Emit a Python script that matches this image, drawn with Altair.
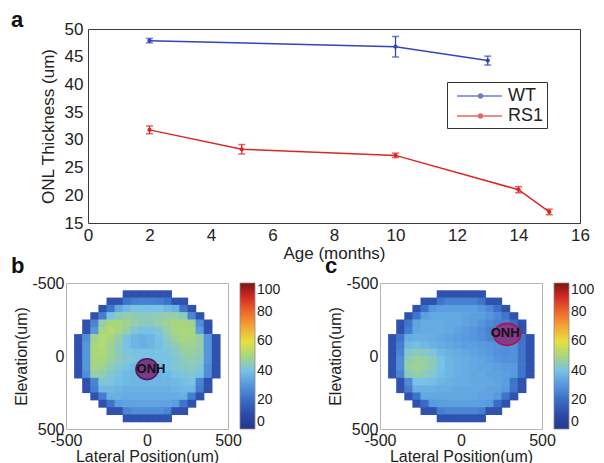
import altair as alt
import pandas as pd

FONT = "Liberation Sans"
TXT = "#222222"

# ---------------- panel a : ONL thickness vs age ----------------
wt_age = [2, 10, 13]
wt_mean = [47.9, 46.8, 44.3]
wt_err = [0.4, 1.85, 0.8]
rs1_age = [2, 5, 10, 14, 15]
rs1_mean = [31.8, 28.3, 27.2, 21.0, 17.0]
rs1_err = [0.7, 0.85, 0.4, 0.55, 0.5]
series_names = ["WT", "RS1"]
series_colors = ["#3346b8", "#e02424"]
age_ticks = [0, 2, 4, 6, 8, 10, 12, 14, 16]
thick_ticks = [15, 20, 25, 30, 35, 40, 45, 50]

# ---------------- panels b, c : thickness maps (um) ----------------
_ = None
cell_centers = [-425, -375, -325, -275, -225, -175, -125, -75, -25,
                25, 75, 125, 175, 225, 275, 325, 375, 425]
cell_half = 25
cell_overlap = 4

map_b = [
    [_, _, _, _, _, _, 12, 12, 12, 12, 12, 12, _, _, _, _, _, _],
    [_, _, _, _, 12, 12, 22, 24, 25, 25, 24, 22, 12, 12, _, _, _, _],
    [_, _, _, 12, 22, 34, 38, 40, 40, 40, 40, 38, 36, 22, 12, _, _, _],
    [_, _, 12, 24, 40, 44, 46, 45, 44, 44, 45, 46, 46, 44, 26, 12, _, _],
    [_, 12, 26, 46, 50, 50, 48, 46, 44, 44, 46, 48, 50, 50, 48, 28, 12, _],
    [_, 12, 30, 50, 52, 50, 46, 42, 40, 40, 42, 46, 50, 51, 50, 32, 12, _],
    [12, 28, 48, 52, 50, 46, 40, 37, 36, 37, 40, 44, 48, 50, 50, 46, 30, 12],
    [12, 30, 50, 52, 48, 44, 40, 37, 36, 37, 39, 42, 45, 48, 48, 46, 30, 12],
    [12, 30, 50, 51, 48, 44, 41, 40, 40, 40, 40, 41, 43, 46, 47, 45, 30, 12],
    [12, 30, 50, 50, 47, 44, 42, 41, 40, 40, 40, 40, 42, 44, 45, 44, 30, 12],
    [12, 30, 49, 48, 45, 42, 40, 38, 36, 36, 38, 40, 42, 43, 44, 42, 28, 12],
    [12, 28, 46, 45, 42, 40, 38, 37, 36, 36, 37, 38, 40, 41, 42, 40, 28, 12],
    [_, 12, 26, 42, 41, 39, 38, 37, 37, 37, 37, 37, 38, 39, 40, 26, 12, _],
    [_, 12, 24, 38, 38, 37, 36, 36, 36, 36, 36, 36, 37, 38, 38, 24, 12, _],
    [_, _, 12, 24, 36, 36, 35, 35, 35, 35, 35, 35, 35, 36, 24, 12, _, _],
    [_, _, _, 12, 22, 32, 33, 33, 33, 33, 33, 33, 32, 22, 12, _, _, _],
    [_, _, _, _, 12, 12, 26, 28, 28, 28, 28, 26, 12, 12, _, _, _, _],
    [_, _, _, _, _, _, 12, 12, 12, 12, 12, 12, _, _, _, _, _, _],
]

map_c = [
    [_, _, _, _, _, _, 12, 12, 12, 12, 12, 12, _, _, _, _, _, _],
    [_, _, _, _, 12, 12, 22, 25, 25, 25, 25, 22, 12, 12, _, _, _, _],
    [_, _, _, 12, 21, 30, 32, 32, 32, 32, 32, 30, 27, 21, 12, _, _, _],
    [_, _, 12, 22, 32, 34, 34, 34, 34, 33, 32, 32, 30, 27, 22, 12, _, _],
    [_, 12, 22, 33, 35, 35, 35, 34, 34, 33, 32, 30, 27, 25, 25, 20, 12, _],
    [_, 12, 24, 34, 35, 35, 35, 34, 33, 32, 30, 28, 25, 25, 25, 22, 12, _],
    [12, 22, 35, 36, 36, 35, 34, 33, 32, 31, 30, 28, 26, 27, 27, 27, 22, 12],
    [12, 24, 38, 39, 38, 36, 35, 34, 33, 32, 32, 31, 30, 29, 29, 29, 22, 12],
    [12, 26, 42, 44, 43, 41, 38, 36, 35, 34, 33, 32, 31, 29, 28, 29, 22, 12],
    [12, 28, 45, 47, 46, 44, 40, 37, 36, 35, 34, 33, 32, 30, 29, 29, 22, 12],
    [12, 28, 46, 48, 47, 44, 40, 37, 36, 35, 34, 33, 33, 32, 31, 31, 22, 12],
    [12, 26, 44, 46, 44, 42, 39, 37, 36, 35, 34, 34, 33, 33, 32, 31, 22, 12],
    [_, 12, 27, 40, 40, 39, 37, 36, 35, 35, 34, 34, 34, 33, 32, 22, 12, _],
    [_, 12, 24, 36, 36, 36, 35, 35, 34, 34, 34, 34, 33, 33, 31, 22, 12, _],
    [_, _, 12, 22, 34, 34, 34, 34, 34, 34, 34, 33, 33, 31, 22, 12, _, _],
    [_, _, _, 12, 20, 31, 32, 32, 32, 32, 32, 32, 31, 20, 12, _, _, _],
    [_, _, _, _, 12, 12, 24, 26, 26, 26, 26, 24, 12, 12, _, _, _, _],
    [_, _, _, _, _, _, 12, 12, 12, 12, 12, 12, _, _, _, _, _, _],
]

onh_b_x, onh_b_y = [0], [90]
onh_b_text_x, onh_b_text_y = [25], [90]
onh_c_x, onh_c_y = [285], [-148]
onh_c_text_x, onh_c_text_y = [272], [-155]

pos_ticks = [-500, 0, 500]
cbar_ticks = [0, 20, 40, 60, 80, 100]
cmap_stops = [0, 10, 20, 30, 40, 50, 60, 70, 80, 90, 100]
cmap_colors = ["#22388c", "#2c4ba8", "#3a6cc6", "#5596de", "#78c2e6",
               "#a8d67e", "#e6e040", "#f4a637", "#ee6a2a", "#d42b24", "#7e1411"]

# ---------------- build panel a ----------------
recs = []
for name, ages, means, errs in (("WT", wt_age, wt_mean, wt_err),
                                ("RS1", rs1_age, rs1_mean, rs1_err)):
    for a, m, e in zip(ages, means, errs):
        recs.append({"series": name, "age": a, "mean": m, "lo": m - e, "hi": m + e})
df_a = pd.DataFrame(recs)

x_a = alt.X("age:Q", scale=alt.Scale(domain=[0, 16], nice=False, zero=False),
            axis=alt.Axis(values=age_ticks, title="Age (months)", labelFlush=False,
                          labelOverlap=False, ticks=False, domain=False, grid=False,
                          labelFontSize=17, titleFontSize=17, labelPadding=4, titlePadding=2))
y_scale_a = alt.Scale(domain=[15, 50], nice=False, zero=False)
y_axis_a = alt.Axis(values=thick_ticks, title="ONL Thickness (um)", labelFlush=False,
                    labelOverlap=False, ticks=False, domain=False, grid=False,
                    labelFontSize=17, titleFontSize=17, labelPadding=5, titlePadding=7)
legend_a = alt.Legend(
    orient="none", legendX=381, legendY=53, title=None,
    symbolType="M-0.4,0L4.1,0M1.75,0A0.2,0.2,0,1,1,2.15,0A0.2,0.2,0,1,1,1.75,0Z",
    symbolSize=400, symbolStrokeWidth=1.3, labelFontSize=18, labelOffset=36,
    labelColor=TXT, padding=3, rowPadding=0, strokeColor="#333333", fillColor="white",
    cornerRadius=0)
color_a = alt.Color("series:N", scale=alt.Scale(domain=series_names, range=series_colors),
                    sort=series_names, legend=legend_a)

base = alt.Chart(df_a).encode(x=x_a, color=color_a)
line = base.mark_line(strokeWidth=1.5).encode(y=alt.Y("mean:Q", scale=y_scale_a, axis=y_axis_a))
err = base.mark_rule(strokeWidth=1.3).encode(y=alt.Y("lo:Q", scale=y_scale_a, axis=y_axis_a), y2="hi:Q")
cap_lo = base.mark_tick(orient="horizontal", size=7, thickness=1.5).encode(
    y=alt.Y("lo:Q", scale=y_scale_a, axis=y_axis_a))
cap_hi = base.mark_tick(orient="horizontal", size=7, thickness=1.5).encode(
    y=alt.Y("hi:Q", scale=y_scale_a, axis=y_axis_a))
pts = base.mark_circle(size=18, opacity=1).encode(y=alt.Y("mean:Q", scale=y_scale_a, axis=y_axis_a))

panel_a = alt.layer(line, err, cap_lo, cap_hi, pts).properties(
    width=492, height=194,
    title=alt.Title(" a", anchor="start", frame="group", dx=-77, offset=-12, fontSize=22,
                    fontWeight="bold", color="#111111", font=FONT),
    view=alt.ViewBackground(stroke="#3a3a3a", strokeWidth=1))

# empty spacer that pushes panel a to the right of the lower panels
spacer = alt.Chart(pd.DataFrame({"v": [0]})).mark_point(opacity=0).encode(
    x=alt.X("v:Q", axis=None), y=alt.Y("v:Q", axis=None)).properties(
    width=22, height=194, view=alt.ViewBackground(stroke="transparent"))

top_row = alt.hconcat(spacer, panel_a, spacing=0, bounds="flush")

# ---------------- build panels b, c ----------------
def cells(grid):
    out = []
    for i, row in enumerate(grid):
        for j, v in enumerate(row):
            if v is not None:
                out.append({"x0": cell_centers[j] - cell_half,
                            "x1": cell_centers[j] + cell_half + cell_overlap,
                            "y0": cell_centers[i] - cell_half,
                            "y1": cell_centers[i] + cell_half + cell_overlap,
                            "value": v})
    return pd.DataFrame(out)

sx = alt.Scale(domain=[-500, 500], nice=False, zero=False)
sy = alt.Scale(domain=[-500, 500], nice=False, zero=False, reverse=True)
hyph = "datum.value < 0 ? '-' + format(-datum.value, 'd') : format(datum.value, 'd')"
ax_hx = alt.Axis(values=pos_ticks, title="Lateral Position(um)", labelExpr=hyph, labelFlush=False,
                 labelOverlap=False, ticks=False, domain=False, grid=False, labelFontSize=16,
                 titleFontSize=16, labelPadding=3, titlePadding=0)
ax_hy = alt.Axis(values=pos_ticks, title="Elevation(um)", labelExpr=hyph, labelFlush=False,
                 labelOverlap=False, ticks=False, domain=False, grid=False, labelFontSize=16,
                 titleFontSize=16, labelPadding=2, titlePadding=2)
cscale = alt.Scale(domain=cmap_stops, range=cmap_colors, interpolate="rgb")
legend_h = alt.Legend(type="gradient", orient="right", direction="vertical", offset=12,
                      gradientLength=146, gradientThickness=15, values=cbar_ticks, title=None,
                      labelFontSize=14, labelOffset=2, padding=0,
                      gradientStrokeColor="#8a8a8a", gradientStrokeWidth=0.8, labelColor=TXT,
                      labelOverlap=False)


def heat_panel(grid, ox, oy, tx, ty, label, label_dx, fill, stroke, shape, size):
    rect = alt.Chart(cells(grid)).mark_rect().encode(
        x=alt.X("x0:Q", scale=sx, axis=ax_hx), x2="x1:Q",
        y=alt.Y("y0:Q", scale=sy, axis=ax_hy), y2="y1:Q",
        color=alt.Color("value:Q", scale=cscale, legend=legend_h))
    ell = alt.Chart(pd.DataFrame({"x": ox, "y": oy})).mark_point(
        shape=shape, size=size, filled=True, fill=fill, stroke=stroke, strokeWidth=1.6,
        opacity=1, fillOpacity=1).encode(
        x=alt.X("x:Q", scale=sx, axis=ax_hx), y=alt.Y("y:Q", scale=sy, axis=ax_hy))
    txt = alt.Chart(pd.DataFrame({"x": tx, "y": ty})).mark_text(
        text="ONH", fontSize=13, fontWeight="bold", color="#111111", font=FONT).encode(
        x=alt.X("x:Q", scale=sx, axis=ax_hx), y=alt.Y("y:Q", scale=sy, axis=ax_hy))
    return alt.layer(rect, ell, txt).properties(
        width=162, height=146,
        title=alt.Title(label, anchor="start", frame="group", dx=label_dx, offset=-3, fontSize=22,
                        fontWeight="bold", color="#111111", font=FONT),
        view=alt.ViewBackground(stroke="#b5b5b5", strokeWidth=1))


panel_b = heat_panel(map_b, onh_b_x, onh_b_y, onh_b_text_x, onh_b_text_y, "b", -55,
                     "#7a3a8a", "#4e1c5e",
                     "M-1,0A1,0.95,0,1,1,1,0A1,0.95,0,1,1,-1,0Z", 484)
panel_c = heat_panel(map_c, onh_c_x, onh_c_y, onh_c_text_x, onh_c_text_y, "c", -55,
                     "#873a8c", "#a8174a",
                     "M-1,0A1,0.815,0,1,1,1,0A1,0.815,0,1,1,-1,0Z", 729)

bottom = alt.hconcat(panel_b, panel_c, spacing=152, bounds="flush").resolve_scale(
    color="independent")

chart = alt.vconcat(top_row, bottom, spacing=-8).resolve_scale(
    color="independent").properties(
    padding={"left": 2, "top": 0, "right": 0, "bottom": 0}).configure(
    font=FONT).configure_axis(
    labelColor=TXT, titleColor=TXT, titleFontWeight="normal", labelFont=FONT, titleFont=FONT)

chart.save("out.html", embed_options={"renderer": "svg", "actions": False})
